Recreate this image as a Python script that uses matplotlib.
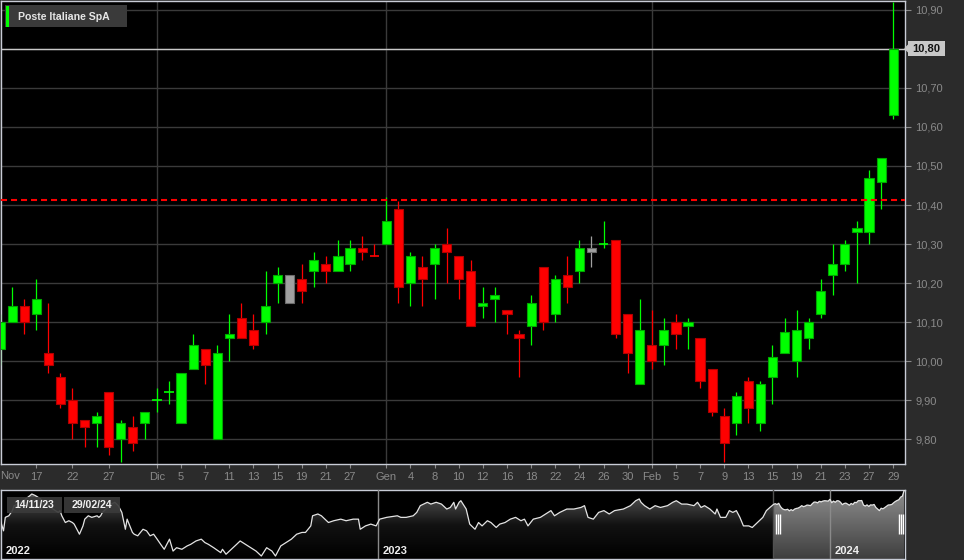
import matplotlib
matplotlib.use('Agg')
import numpy as np
import matplotlib.pyplot as plt
from matplotlib.patches import Rectangle, Polygon
from matplotlib.colors import LinearSegmentedColormap
from matplotlib.transforms import blended_transform_factory

W, H = 964, 560

# daily candles, 14/11/23 .. 29/02/24
opens = [10.03, 10.10, 10.14, 10.12, 10.02, 9.96, 9.90, 9.85, 9.84, 9.92,
         9.80, 9.83, 9.84, 9.90, 9.92, 9.84, 9.98, 10.03, 9.80, 10.06,
         10.11, 10.08, 10.10, 10.20, 10.15, 10.21, 10.23, 10.25, 10.23, 10.25,
         10.29, 10.27, 10.30, 10.39, 10.20, 10.24, 10.25, 10.30, 10.27, 10.23,
         10.14, 10.16, 10.13, 10.07, 10.09, 10.24, 10.12, 10.22, 10.23, 10.28,
         10.30, 10.31, 10.12, 9.94, 10.04, 10.04, 10.10, 10.09, 10.06, 9.98,
         9.86, 9.84, 9.95, 9.84, 9.96, 10.02, 10.00, 10.06, 10.12, 10.22,
         10.25, 10.33, 10.33, 10.46, 10.63]
highs = [10.12, 10.19, 10.16, 10.21, 10.15, 9.97, 9.93, 9.85, 9.87, 9.92,
         9.85, 9.86, 9.87, 9.93, 9.95, 9.97, 10.07, 10.03, 10.04, 10.12,
         10.15, 10.12, 10.23, 10.24, 10.22, 10.25, 10.28, 10.27, 10.31, 10.31,
         10.32, 10.30, 10.42, 10.41, 10.28, 10.27, 10.30, 10.34, 10.27, 10.26,
         10.19, 10.19, 10.13, 10.08, 10.17, 10.24, 10.22, 10.27, 10.31, 10.32,
         10.36, 10.31, 10.12, 10.16, 10.13, 10.11, 10.12, 10.11, 10.06, 9.98,
         9.88, 9.92, 9.96, 9.95, 10.04, 10.11, 10.13, 10.11, 10.21, 10.30,
         10.31, 10.36, 10.49, 10.52, 10.92]
lows = [9.99, 10.10, 10.07, 10.08, 9.97, 9.88, 9.80, 9.78, 9.78, 9.76,
        9.74, 9.77, 9.80, 9.87, 9.89, 9.84, 9.98, 9.94, 9.80, 10.00,
        10.06, 10.03, 10.07, 10.15, 10.15, 10.15, 10.19, 10.20, 10.23, 10.23,
        10.26, 10.27, 10.30, 10.15, 10.14, 10.14, 10.16, 10.20, 10.16, 10.09,
        10.11, 10.10, 10.07, 9.96, 10.04, 10.08, 10.10, 10.15, 10.20, 10.24,
        10.29, 10.06, 9.97, 9.94, 9.98, 9.99, 10.03, 10.03, 9.93, 9.86,
        9.74, 9.81, 9.84, 9.82, 9.89, 10.02, 9.96, 10.03, 10.11, 10.17,
        10.23, 10.20, 10.30, 10.39, 10.62]
closes = [10.10, 10.14, 10.10, 10.16, 9.99, 9.89, 9.84, 9.83, 9.86, 9.78,
          9.84, 9.79, 9.87, 9.90, 9.92, 9.97, 10.04, 9.99, 10.02, 10.07,
          10.06, 10.04, 10.14, 10.22, 10.22, 10.18, 10.26, 10.23, 10.27, 10.29,
          10.28, 10.27, 10.36, 10.19, 10.27, 10.21, 10.29, 10.28, 10.21, 10.09,
          10.15, 10.17, 10.12, 10.06, 10.15, 10.10, 10.21, 10.19, 10.29, 10.29,
          10.30, 10.07, 10.02, 10.08, 10.00, 10.08, 10.07, 10.10, 9.95, 9.87,
          9.79, 9.91, 9.88, 9.94, 10.01, 10.075, 10.08, 10.10, 10.18, 10.25,
          10.30, 10.34, 10.47, 10.52, 10.80]

tick_idx = [3, 6, 9, 13, 15, 17, 19, 21, 23, 25, 27, 29, 32, 34, 36, 38, 40, 42,
            44, 46, 48, 50, 52, 54, 56, 58, 60, 62, 64, 66, 68, 70, 72, 74]
tick_lbl = ['17', '22', '27', 'Dic', '5', '7', '11', '13', '15', '19', '21', '27',
            'Gen', '4', '8', '10', '12', '16', '18', '22', '24', '26', '30',
            'Feb', '5', '7', '9', '13', '15', '19', '21', '23', '27', '29']
month_idx = [13, 32, 54]
price_ticks = [9.8, 9.9, 10.0, 10.1, 10.2, 10.3, 10.4, 10.5, 10.6, 10.7, 10.8, 10.9]
resistance = 10.413
last_price = 10.80

# navigator (long history), trading-day offset and close
nav_day = [0, 2, 3, 5, 7, 8, 10, 13, 15, 17,
           18, 20, 23, 25, 28, 30, 33, 34, 35, 37,
           39, 41, 42, 45, 47, 48, 50, 52, 55, 56,
           57, 58, 60, 63, 65, 67, 69, 71, 72, 75,
           76, 78, 81, 83, 85, 87, 89, 91, 93, 96,
           98, 100, 103, 106, 108, 111, 114, 116, 118, 121,
           125, 126, 128, 132, 134, 136, 139, 142, 145, 148,
           151, 154, 156, 159, 162, 165, 168, 171, 173, 176,
           177, 180, 182, 184, 186, 189, 193, 196, 200, 203,
           204, 207, 210, 213, 215, 219, 225, 227, 230, 234,
           236, 238, 242, 244, 247, 250, 253, 255, 257, 258,
           260, 261, 264, 266, 269, 271, 273, 276, 278, 281,
           283, 286, 289, 292, 295, 297, 299, 302, 306, 309,
           312, 314, 317, 321, 325, 329, 331, 333, 336, 339,
           342, 345, 348, 353, 357, 360, 362, 363, 365, 368,
           371, 374, 378, 381, 383, 386, 389, 393, 395, 397,
           399, 402, 405, 406, 408, 411, 413, 415, 417, 419,
           421, 424, 426, 428, 432, 434, 436]
nav_close = [9.36, 8.77, 9.45, 9.53, 9.79, 10.04, 10.12, 10.29, 10.41, 10.55,
             10.63, 10.55, 10.38, 10.21, 10.04, 9.87, 9.70, 9.79, 9.53, 9.19,
             9.28, 9.19, 9.11, 8.60, 9.02, 9.36, 9.53, 9.45, 9.53, 9.45,
             9.53, 9.70, 9.87, 10.12, 10.21, 10.04, 9.70, 8.85, 9.36, 8.69,
             8.60, 8.52, 8.85, 8.77, 8.52, 8.60, 8.35, 8.09, 7.84, 8.35,
             7.75, 7.92, 7.84, 8.01, 8.09, 8.26, 8.35, 8.18, 8.09, 7.92,
             7.67, 7.84, 7.59, 7.92, 8.09, 8.26, 8.09, 7.92, 7.75, 7.50,
             7.92, 7.75, 7.50, 8.01, 8.18, 8.35, 8.60, 8.69, 8.69, 9.02,
             9.53, 9.62, 9.53, 9.36, 9.19, 9.28, 9.36, 9.28, 9.36, 9.36,
             8.85, 9.02, 9.11, 9.02, 9.36, 9.45, 9.53, 9.45, 9.45, 9.53,
             9.70, 10.04, 10.21, 10.12, 10.21, 10.12, 9.87, 9.95, 10.21, 9.87,
             10.21, 10.29, 9.87, 9.11, 8.85, 9.19, 9.02, 9.28, 9.19, 8.94,
             9.11, 9.19, 9.36, 9.45, 9.28, 9.36, 9.02, 9.36, 9.45, 9.62,
             9.79, 9.53, 9.70, 9.87, 9.87, 9.95, 10.04, 9.45, 9.36, 9.70,
             9.79, 9.62, 9.79, 9.87, 10.04, 10.29, 10.38, 10.21, 10.04, 9.87,
             10.04, 9.95, 10.04, 10.21, 10.29, 10.12, 10.12, 10.04, 10.21, 9.95,
             10.04, 9.87, 9.62, 9.87, 9.45, 9.45, 9.79, 9.70, 9.79, 9.45,
             9.02, 9.02, 8.94, 9.11, 9.45, 9.79, 9.95]
sel_start = 438          # 14/11/23 in navigator days
year_days = [214, 470]   # 2023, 2024
year_lbl = ['2022', '2023', '2024']

FONT = 'Liberation Sans'
BG = '#2b2b2b'
GRID = '#3a3a3a'
TXT = '#8a8a8a'
BORDER = '#c8ccd6'


def fx(x):
    return x / W


def fy(y):
    return 1 - y / H


def main() -> None:
    plt.rcParams['font.family'] = FONT
    fig = plt.figure(figsize=(W / 100, H / 100), dpi=100, facecolor=BG)

    # ---- main candle chart ----
    ax = fig.add_axes([fx(1), fy(464), (905 - 1) / W, (464 - 1) / H])
    ax.set_facecolor('black')
    n = len(closes)
    xs = np.arange(n)
    o = np.array(opens)
    c = np.array(closes)
    prev = np.concatenate([[o[0]], c[:-1]])
    cols, edges = [], []
    for i in range(n):
        if np.isclose(c[i], prev[i]):
            cols.append('#a0a0a0'); edges.append('#6a6a6a')
        elif c[i] > prev[i]:
            cols.append('#00ff00'); edges.append('#00a800')
        else:
            cols.append('#ff0000'); edges.append('#b00000')

    ax.vlines(xs, lows, highs, colors=cols, lw=0.9, zorder=3)
    lo = np.minimum(o, c)
    hgt = np.abs(c - o)
    body = hgt > 0.004
    ax.bar(xs[body], hgt[body], bottom=lo[body], width=0.76,
           color=[cols[i] for i in xs[body]], edgecolor=[edges[i] for i in xs[body]],
           linewidth=0.8, zorder=4)
    for i in xs[~body]:
        ax.hlines(c[i], i - 0.38, i + 0.38, colors=cols[i], lw=1.2, zorder=4)

    ax.set_xlim(0.08, 74.98)
    ax.set_ylim(9.736, 10.923)
    ax.set_yticks(price_ticks)
    ax.yaxis.tick_right()
    ax.set_yticklabels([('' if abs(p - last_price) < 1e-6 else f'{p:.2f}'.replace('.', ','))
                        for p in price_ticks])
    ax.tick_params(axis='y', colors=TXT, length=4, width=0.8, pad=3.5, labelsize=8)
    ax.set_xticks(tick_idx)
    ax.set_xticklabels(tick_lbl)
    ax.tick_params(axis='x', colors=TXT, length=3, width=0.8, pad=3, labelsize=8)
    ax.grid(axis='y', color=GRID, lw=1, zorder=0)
    for m in month_idx:
        ax.axvline(m, color=GRID, lw=1, zorder=0)
    ax.axhline(last_price, color='#c8c8c8', lw=1, zorder=2)
    ax.axhline(resistance, color='#ff0000', lw=1.5, dashes=(2.9, 1.9), zorder=5)
    ax.set_axisbelow(True)
    for s in ax.spines.values():
        s.set_color(BORDER)
        s.set_linewidth(1)
    tr = blended_transform_factory(ax.transData, ax.transAxes)
    ax.text(0, -0.0155, 'Nov', transform=tr, ha='left', va='top', color=TXT, fontsize=8)

    # last price tag
    fig.add_artist(Polygon([(fx(905), fy(48.5)), (fx(909), fy(44.5)), (fx(909), fy(52.5))],
                           closed=True, transform=fig.transFigure, color='#c8c8c8'))
    fig.add_artist(Rectangle((fx(908), fy(56)), 37 / W, 15 / H, transform=fig.transFigure,
                             facecolor='#c8c8c8', edgecolor='none'))
    fig.text(fx(926.5), fy(48.5), f'{last_price:.2f}'.replace('.', ','), ha='center', va='center',
             color='#111111', fontsize=8, fontweight='bold')

    # series legend
    fig.add_artist(Rectangle((fx(5), fy(27)), 122 / W, 22 / H, transform=fig.transFigure,
                             facecolor='#3a3a3a', edgecolor='none'))
    fig.add_artist(Rectangle((fx(6), fy(27)), 2.5 / W, 21 / H, transform=fig.transFigure,
                             facecolor='#00ff00', edgecolor='none'))
    fig.text(fx(18), fy(16.5), 'Poste Italiane SpA', ha='left', va='center',
             color='#e6e6e6', fontsize=7.6, fontweight='bold')

    # ---- navigator ----
    nav = fig.add_axes([fx(1), fy(559), (905 - 1) / W, (559 - 490) / H])
    nav.set_facecolor('black')
    days = np.array(nav_day + list(range(sel_start, sel_start + n)), dtype=float)
    vals = np.array(nav_close + closes)
    x0, x1 = 0.57, 512.5
    y0, y1 = 7.35, 10.83
    nav.set_xlim(x0, x1)
    nav.set_ylim(y0, y1)

    grad = np.linspace(1, 0, 256).reshape(-1, 1)
    dark = LinearSegmentedColormap.from_list('dk', ['#000000', '#121212', '#5c5c5c'])
    light = LinearSegmentedColormap.from_list('lt', ['#3e3e3e', '#8e8e8e'])
    poly_all = Polygon([(days[0], y0)] + list(zip(days, vals)) + [(days[-1], y0)],
                       closed=True, facecolor='none', edgecolor='none')
    nav.add_patch(poly_all)
    im = nav.imshow(grad, extent=[x0, x1, y0, y1], aspect='auto', cmap=dark, zorder=1)
    im.set_clip_path(poly_all)
    sel = days >= sel_start
    poly_sel = Polygon([(sel_start, y0)] + list(zip(days[sel], vals[sel])) + [(days[-1], y0)],
                       closed=True, facecolor='none', edgecolor='none')
    nav.add_patch(poly_sel)
    im2 = nav.imshow(grad, extent=[x0, x1, y0, y1], aspect='auto', cmap=light, zorder=2)
    im2.set_clip_path(poly_sel)
    nav.plot(days, vals, color='#e4e4e4', lw=0.9, zorder=4)

    nav.axvline(sel_start, color='#505050', lw=1, zorder=3)
    for d in year_days:
        nav.axvline(d, color='#8a8a8a', lw=1, zorder=3)
    ntr = blended_transform_factory(nav.transData, nav.transAxes)
    for k, d in enumerate([x0] + year_days):
        nav.text(d + 2.4, 0.05, year_lbl[k], transform=ntr, ha='left', va='bottom',
                 color='#eeeeee', fontsize=8, fontweight='bold', zorder=6)
    # selection handles
    for base in (sel_start + 1.3, days[-1] - 2.9):
        for k in range(3):
            nav.vlines(base + k * 1.13, 0.36, 0.65, transform=ntr, colors='white', lw=1, zorder=5)
    nav.set_xticks([])
    nav.set_yticks([])
    for s in nav.spines.values():
        s.set_color(BORDER)
        s.set_linewidth(1)

    # date range boxes
    for (bx0, bx1, lbl) in [(7, 62, '14/11/23'), (64, 120, '29/02/24')]:
        fig.add_artist(Rectangle((fx(bx0), fy(513)), (bx1 - bx0) / W, 16 / H,
                                 transform=fig.transFigure, facecolor='#3a3a3a',
                                 edgecolor='none', alpha=0.92, zorder=10))
        fig.text(fx((bx0 + bx1) / 2), fy(505), lbl, ha='center', va='center',
                 color='#f0f0f0', fontsize=7.6, fontweight='bold', zorder=11)

    fig.savefig('out.png', dpi=100, facecolor=BG)


if __name__ == '__main__':
    main()
